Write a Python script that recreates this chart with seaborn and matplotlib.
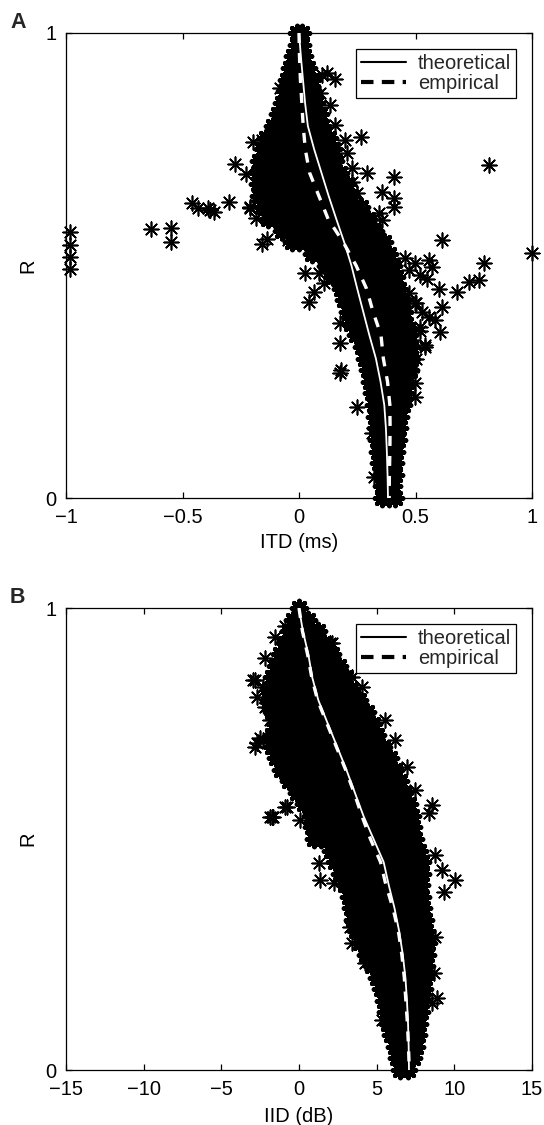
import matplotlib
matplotlib.use("Agg")
import numpy as np
import pandas as pd
import matplotlib.pyplot as plt
import seaborn as sns
from matplotlib.lines import Line2D

# ---------------- Panel A data (ITD, ms) ----------------
A_core_R = [1.000, 0.975, 0.950, 0.925, 0.900, 0.875, 0.850, 0.825, 0.800, 0.775,
            0.750, 0.725, 0.700, 0.675, 0.650, 0.625, 0.600, 0.575, 0.550, 0.525,
            0.500, 0.475, 0.450, 0.425, 0.400, 0.375, 0.350, 0.325, 0.300, 0.275,
            0.250, 0.225, 0.200, 0.175, 0.150, 0.125, 0.100, 0.075, 0.050, 0.025, 0.000]
A_core_ITD = [
    [-0.008, 0.014],
    [-0.010, 0.012],
    [-0.025, 0.000, 0.022],
    [-0.040, -0.012, 0.015, 0.040],
    [-0.050, -0.020, 0.010, 0.040, 0.055],
    [-0.060, -0.030, 0.000, 0.030, 0.060],
    [-0.075, -0.045, -0.015, 0.015, 0.045, 0.075],
    [-0.090, -0.060, -0.030, 0.000, 0.030, 0.060, 0.090],
    [-0.110, -0.080, -0.050, -0.020, 0.010, 0.040, 0.070, 0.100],
    [-0.140, -0.110, -0.080, -0.050, -0.020, 0.010, 0.040, 0.070, 0.100, 0.130],
    [-0.155, -0.125, -0.095, -0.065, -0.035, -0.005, 0.025, 0.055, 0.085, 0.115, 0.145],
    [-0.170, -0.140, -0.110, -0.080, -0.050, -0.020, 0.010, 0.040, 0.070, 0.100, 0.130, 0.155],
    [-0.175, -0.145, -0.115, -0.085, -0.055, -0.025, 0.005, 0.035, 0.065, 0.095, 0.125, 0.155, 0.175],
    [-0.175, -0.145, -0.115, -0.085, -0.055, -0.025, 0.005, 0.035, 0.065, 0.095, 0.125, 0.155, 0.185, 0.205],
    [-0.170, -0.140, -0.110, -0.080, -0.050, -0.020, 0.010, 0.040, 0.070, 0.100, 0.130, 0.160, 0.190, 0.225],
    [-0.155, -0.125, -0.095, -0.065, -0.035, -0.005, 0.025, 0.055, 0.085, 0.115, 0.145, 0.175, 0.205, 0.235, 0.265],
    [-0.135, -0.105, -0.075, -0.045, -0.015, 0.015, 0.045, 0.075, 0.105, 0.135, 0.165, 0.195, 0.225, 0.255, 0.295],
    [-0.075, -0.045, -0.015, 0.015, 0.045, 0.075, 0.105, 0.135, 0.165, 0.195, 0.225, 0.255, 0.285, 0.325],
    [-0.030, 0.000, 0.030, 0.060, 0.090, 0.120, 0.150, 0.180, 0.210, 0.240, 0.270, 0.300, 0.330, 0.365],
    [0.055, 0.085, 0.115, 0.145, 0.175, 0.205, 0.235, 0.265, 0.295, 0.325, 0.355, 0.385],
    [0.115, 0.145, 0.175, 0.205, 0.235, 0.265, 0.295, 0.325, 0.355, 0.385, 0.405],
    [0.145, 0.175, 0.205, 0.235, 0.265, 0.295, 0.325, 0.355, 0.385, 0.415],
    [0.180, 0.210, 0.240, 0.270, 0.300, 0.330, 0.360, 0.390, 0.430],
    [0.195, 0.225, 0.255, 0.285, 0.315, 0.345, 0.375, 0.405, 0.440],
    [0.210, 0.240, 0.270, 0.300, 0.330, 0.360, 0.390, 0.420, 0.450],
    [0.225, 0.255, 0.285, 0.315, 0.345, 0.375, 0.405, 0.435, 0.460],
    [0.245, 0.275, 0.305, 0.335, 0.365, 0.395, 0.425, 0.455, 0.470],
    [0.270, 0.300, 0.330, 0.360, 0.390, 0.420, 0.450, 0.480],
    [0.285, 0.315, 0.345, 0.375, 0.405, 0.435, 0.465, 0.480],
    [0.295, 0.325, 0.355, 0.385, 0.415, 0.445, 0.475],
    [0.305, 0.335, 0.365, 0.395, 0.425, 0.465],
    [0.315, 0.345, 0.375, 0.405, 0.435, 0.455],
    [0.320, 0.350, 0.380, 0.410, 0.445],
    [0.325, 0.355, 0.385, 0.415, 0.435],
    [0.330, 0.360, 0.390, 0.420, 0.430],
    [0.335, 0.365, 0.395, 0.425],
    [0.340, 0.370, 0.400, 0.415],
    [0.345, 0.375, 0.410],
    [0.350, 0.380, 0.410],
    [0.355, 0.385, 0.405],
    [0.355, 0.385, 0.410],
]
A_out_ITD = [-0.983, -0.983, -0.983, -0.983, -0.275, -0.228, -0.459, -0.433, -0.390, -0.365,
             -0.300, -0.210, -0.185, -0.159, -0.635, -0.549, -0.549, -0.159, -0.137, -0.382,
             -0.047, -0.082, -0.197, -0.160, -0.120, -0.210, -0.176, 0.099, 0.120, 0.155,
             0.090, 0.133, 0.155, 0.197, 0.266, 0.206, 0.815, 0.227, 0.292, 0.408,
             0.227, 0.356, 0.408, 0.408, 0.249, 0.343, 0.356, 0.614, 1.000, 0.794,
             0.455, 0.498, 0.558, 0.571, 0.026, 0.086, 0.064, 0.107, 0.043, 0.176,
             0.176, 0.176, 0.180, 0.249, 0.678, 0.730, 0.773, 0.614, 0.584, 0.605,
             0.541, 0.498, 0.519, 0.498, 0.498, 0.313, 0.322, 0.470, 0.520, 0.550,
             0.600, 0.470, 0.500, 0.530, 0.560, 0.520, 0.490, 0.540, 0.500, 0.480]
A_out_R = [0.572, 0.544, 0.518, 0.493, 0.718, 0.697, 0.634, 0.624, 0.624, 0.615,
           0.637, 0.624, 0.602, 0.641, 0.578, 0.581, 0.551, 0.546, 0.557, 0.619,
           0.555, 0.882, 0.765, 0.770, 0.760, 0.626, 0.641, 0.910, 0.914, 0.901,
           0.871, 0.845, 0.802, 0.770, 0.776, 0.742, 0.716, 0.710, 0.699, 0.690,
           0.680, 0.658, 0.645, 0.626, 0.656, 0.613, 0.598, 0.555, 0.527, 0.505,
           0.516, 0.505, 0.512, 0.497, 0.484, 0.484, 0.443, 0.462, 0.421, 0.376,
           0.333, 0.269, 0.275, 0.196, 0.443, 0.465, 0.469, 0.411, 0.383, 0.357,
           0.325, 0.419, 0.368, 0.247, 0.217, 0.140, 0.045, 0.490, 0.480, 0.470,
           0.450, 0.440, 0.420, 0.400, 0.390, 0.360, 0.340, 0.330, 0.300, 0.270]
A_theo_R = [1.00, 0.95, 0.90, 0.85, 0.80, 0.75, 0.70, 0.65, 0.60, 0.55, 0.50,
            0.45, 0.40, 0.35, 0.30, 0.25, 0.20, 0.15, 0.10, 0.05, 0.00]
A_theo_ITD = [0.000, 0.008, 0.017, 0.026, 0.038, 0.065, 0.096, 0.127, 0.160, 0.194, 0.225,
              0.250, 0.276, 0.302, 0.330, 0.350, 0.366, 0.373, 0.377, 0.380, 0.382]
A_emp_R = A_theo_R
A_emp_ITD = [0.000, 0.002, 0.006, 0.012, 0.018, 0.027, 0.045, 0.085, 0.125, 0.190, 0.245,
             0.290, 0.318, 0.352, 0.362, 0.380, 0.390, 0.391, 0.390, 0.388, 0.387]

# ---------------- Panel B data (IID, dB) ----------------
B_core_R = A_core_R
B_core_IID = [
    [0.00],
    [-0.40, 0.10, 0.60],
    [-0.65, -0.15, 0.35, 0.85, 1.20],
    [-0.90, -0.40, 0.10, 0.60, 1.10, 1.60],
    [-1.25, -0.75, -0.25, 0.25, 0.75, 1.25, 1.75, 2.15],
    [-1.45, -0.95, -0.45, 0.05, 0.55, 1.05, 1.55, 2.05, 2.60],
    [-1.75, -1.25, -0.75, -0.25, 0.25, 0.75, 1.25, 1.75, 2.25, 2.75, 3.00],
    [-1.95, -1.45, -0.95, -0.45, 0.05, 0.55, 1.05, 1.55, 2.05, 2.55, 3.05, 3.35],
    [-1.90, -1.40, -0.90, -0.40, 0.10, 0.60, 1.10, 1.60, 2.10, 2.60, 3.10, 3.50, 3.85],
    [-1.75, -1.25, -0.75, -0.25, 0.25, 0.75, 1.25, 1.75, 2.25, 2.75, 3.25, 3.75, 4.35],
    [-1.55, -1.05, -0.55, -0.05, 0.45, 0.95, 1.45, 1.95, 2.45, 2.95, 3.45, 3.95, 4.45, 4.75],
    [-1.75, -1.25, -0.75, -0.25, 0.25, 0.75, 1.25, 1.75, 2.25, 2.75, 3.25, 3.75, 4.25, 4.75, 5.05],
    [-1.75, -1.25, -0.75, -0.25, 0.25, 0.75, 1.25, 1.75, 2.25, 2.75, 3.25, 3.75, 4.25, 4.75, 5.40],
    [-1.50, -1.00, -0.50, 0.00, 0.50, 1.00, 1.50, 2.00, 2.50, 3.00, 3.50, 4.00, 4.50, 5.00, 5.50, 5.85],
    [-1.15, -0.65, -0.15, 0.35, 0.85, 1.35, 1.85, 2.35, 2.85, 3.35, 3.85, 4.35, 4.85, 5.35, 5.85, 6.20],
    [-0.65, -0.15, 0.35, 0.85, 1.35, 1.85, 2.35, 2.85, 3.35, 3.85, 4.35, 4.85, 5.35, 5.85, 6.50],
    [-0.15, 0.35, 0.85, 1.35, 1.85, 2.35, 2.85, 3.35, 3.85, 4.35, 4.85, 5.35, 5.85, 6.35, 6.75],
    [0.35, 0.85, 1.35, 1.85, 2.35, 2.85, 3.35, 3.85, 4.35, 4.85, 5.35, 5.85, 6.35, 6.85, 7.05],
    [0.75, 1.25, 1.75, 2.25, 2.75, 3.25, 3.75, 4.25, 4.75, 5.25, 5.75, 6.25, 6.75, 7.25],
    [0.85, 1.35, 1.85, 2.35, 2.85, 3.35, 3.85, 4.35, 4.85, 5.35, 5.85, 6.35, 6.85, 7.35],
    [0.95, 1.40, 1.90, 2.40, 2.90, 3.40, 3.90, 4.40, 4.90, 5.40, 5.90, 6.40, 6.90, 7.45],
    [2.05, 2.55, 3.05, 3.55, 4.05, 4.55, 5.05, 5.55, 6.05, 6.55, 7.05, 7.55, 7.75],
    [2.30, 2.80, 3.30, 3.80, 4.30, 4.80, 5.30, 5.80, 6.30, 6.80, 7.30, 7.95],
    [2.65, 3.15, 3.65, 4.15, 4.65, 5.15, 5.65, 6.15, 6.65, 7.15, 7.90],
    [2.95, 3.45, 3.95, 4.45, 4.95, 5.45, 5.95, 6.45, 6.95, 7.45, 7.85],
    [3.20, 3.70, 4.20, 4.70, 5.20, 5.70, 6.20, 6.70, 7.20, 7.65, 7.95],
    [3.35, 3.85, 4.35, 4.85, 5.35, 5.85, 6.35, 6.85, 7.35, 8.00],
    [3.50, 4.00, 4.50, 5.00, 5.50, 6.00, 6.50, 7.00, 7.50, 8.10],
    [3.70, 4.20, 4.70, 5.20, 5.70, 6.20, 6.70, 7.20, 7.70, 8.20],
    [3.90, 4.40, 4.90, 5.40, 5.90, 6.40, 6.90, 7.40, 7.90, 8.30],
    [4.30, 4.80, 5.30, 5.80, 6.30, 6.80, 7.30, 7.80, 8.25],
    [4.70, 5.20, 5.70, 6.20, 6.70, 7.20, 7.70, 8.20],
    [5.00, 5.50, 6.00, 6.50, 7.00, 7.50, 8.10],
    [5.25, 5.75, 6.25, 6.75, 7.25, 7.75, 8.05],
    [5.45, 5.95, 6.45, 6.95, 7.45, 7.95],
    [5.60, 6.10, 6.60, 7.10, 7.60, 7.85],
    [5.75, 6.25, 6.75, 7.25, 7.75],
    [5.95, 6.45, 6.95, 7.45, 7.65],
    [6.15, 6.65, 7.15, 7.55],
    [6.30, 6.80, 7.35],
    [6.50, 7.00],
]
B_out_IID = [-2.19, -2.96, -2.32, -2.70, -2.06, -1.87, -2.70, -2.32, -1.87, -1.55,
             -2.83, -2.19, -2.83, -2.51, -0.77, -1.67, 0.06, 0.90, 2.00, 2.12,
             3.41, 4.06, 5.54, 6.18, 6.95, 7.47, 8.56, 8.37, -0.90, -1.74,
             1.29, 1.35, 2.25, 8.76, 9.20, 10.04, 9.34, 3.28, 3.41, 4.25,
             8.76, 8.69, 8.88, 8.56, 5.34, -0.90, -1.30]
B_out_R = [0.892, 0.844, 0.829, 0.807, 0.794, 0.758, 0.708, 0.714, 0.548, 0.937,
           0.844, 0.786, 0.699, 0.719, 0.569, 0.548, 0.541, 0.537, 0.924, 0.924,
           0.851, 0.829, 0.758, 0.714, 0.656, 0.606, 0.574, 0.556, 0.569, 0.548,
           0.448, 0.411, 0.405, 0.465, 0.433, 0.411, 0.385, 0.310, 0.275, 0.232,
           0.288, 0.210, 0.156, 0.145, 0.108, 0.960, 0.900]
B_theo_R = A_theo_R
B_theo_IID = [0.00, 0.25, 0.60, 0.85, 1.25, 1.85, 2.45, 3.05, 3.60, 4.15, 4.80,
              5.45, 5.78, 6.15, 6.45, 6.68, 6.85, 6.95, 7.02, 7.06, 7.08]
B_emp_R = A_theo_R
B_emp_IID = [0.00, 0.22, 0.55, 0.82, 1.20, 1.80, 2.40, 3.00, 3.55, 4.05, 4.60,
             5.25, 5.60, 6.05, 6.40, 6.62, 6.78, 6.88, 6.98, 7.05, 7.10]

x_ticks_A = [-1, -0.5, 0, 0.5, 1]
x_tick_labels_A = ["\u22121", "\u22120.5", "0", "0.5", "1"]
x_ticks_B = [-15, -10, -5, 0, 5, 10, 15]
x_tick_labels_B = ["\u221215", "\u221210", "\u22125", "0", "5", "10", "15"]


def rows_to_frame(r_levels, x_rows, xname):
    rr, xx = [], []
    for r, xs in zip(r_levels, x_rows):
        for v in xs:
            rr.append(r)
            xx.append(v)
    return pd.DataFrame({xname: xx, "R": rr})


sns.set_theme(style="white")
plt.rcParams["font.family"] = ["Liberation Sans", "DejaVu Sans"]
plt.rcParams["axes.linewidth"] = 0.9
plt.rcParams["axes.edgecolor"] = "black"

fig = plt.figure(figsize=(5.44, 11.25), dpi=100)
axA = fig.add_axes([66 / 544, 1 - 498 / 1125, 466 / 544, 465 / 1125])
axB = fig.add_axes([66 / 544, 1 - 1070 / 1125, 466 / 544, 462 / 1125])

AST = (8, 2, 0)
FS = 14.5


def draw_panel(ax, core_df, out_x, out_r, theo_x, theo_r, emp_x, emp_r, xname,
               xlim, xticks, xlabels, xlabel, letter, label_y):
    # dense core: thin asterisks for the ragged rim, thick ones underneath so the overlap reads solid
    sns.scatterplot(data=core_df, x=xname, y="R", ax=ax, marker=AST, s=150,
                    color="black", edgecolor="black", linewidth=1.1, legend=False,
                    clip_on=False, zorder=2)
    sns.scatterplot(data=core_df, x=xname, y="R", ax=ax, marker=AST, s=120,
                    color="black", edgecolor="black", linewidth=3.2, legend=False,
                    clip_on=False, zorder=2)
    out_df = pd.DataFrame({xname: out_x, "R": out_r})
    sns.scatterplot(data=out_df, x=xname, y="R", ax=ax, marker=AST, s=110,
                    color="black", edgecolor="black", linewidth=1.2, legend=False,
                    clip_on=False, zorder=2)
    theo_df = pd.DataFrame({xname: theo_x, "R": theo_r})
    emp_df = pd.DataFrame({xname: emp_x, "R": emp_r})
    sns.lineplot(data=theo_df, x=xname, y="R", ax=ax, sort=False, estimator=None,
                 color="white", linewidth=1.3, zorder=4)
    sns.lineplot(data=emp_df, x=xname, y="R", ax=ax, sort=False, estimator=None,
                 color="white", linewidth=2.4, linestyle=(0, (3, 3)), zorder=4)
    ax.set_xlim(*xlim)
    ax.set_ylim(0, 1)
    ax.set_xticks(xticks)
    ax.set_xticklabels(xlabels, fontsize=FS)
    ax.set_yticks([0, 1])
    ax.set_yticklabels(["0", "1"], fontsize=FS)
    ax.tick_params(direction="in", length=4, width=0.9, top=True, right=True,
                   bottom=True, left=True, pad=7, colors="black")
    ax.set_xlabel(xlabel, fontsize=FS, color="black")
    ax.set_ylabel("R", fontsize=FS, color="black")
    ax.xaxis.set_label_coords(0.5, label_y)
    ax.yaxis.set_label_coords(-0.062, 0.5)
    for s in ax.spines.values():
        s.set_visible(True)
        s.set_color("black")
        s.set_linewidth(0.9)
    handles = [Line2D([0], [0], color="black", lw=1.5, ls="-"),
               Line2D([0], [0], color="black", lw=3.0, ls=(0, (3, 2)))]
    leg = ax.legend(handles, ["theoretical", "empirical"], loc="upper right",
                    bbox_to_anchor=(0.9785, 0.979), fontsize=FS, frameon=True,
                    fancybox=False, framealpha=1, edgecolor="black",
                    handlelength=2.2, handletextpad=0.6, borderpad=0.25,
                    labelspacing=0.05, borderaxespad=0.3)
    leg.get_frame().set_linewidth(0.9)
    leg.set_zorder(6)
    ax.text(-0.12, 1.0, letter, transform=ax.transAxes, fontsize=15.5,
            fontweight="bold", ha="left", va="bottom")


coreA = rows_to_frame(A_core_R, A_core_ITD, "ITD")
coreB = rows_to_frame(B_core_R, B_core_IID, "IID")

draw_panel(axA, coreA, A_out_ITD, A_out_R, A_theo_ITD, A_theo_R, A_emp_ITD, A_emp_R,
           "ITD", (-1, 1), x_ticks_A, x_tick_labels_A, "ITD (ms)", "A", -0.075)
draw_panel(axB, coreB, B_out_IID, B_out_R, B_theo_IID, B_theo_R, B_emp_IID, B_emp_R,
           "IID", (-15, 15), x_ticks_B, x_tick_labels_B, "IID (dB)", "B", -0.08)

fig.savefig("out.png", dpi=100, facecolor="white")
